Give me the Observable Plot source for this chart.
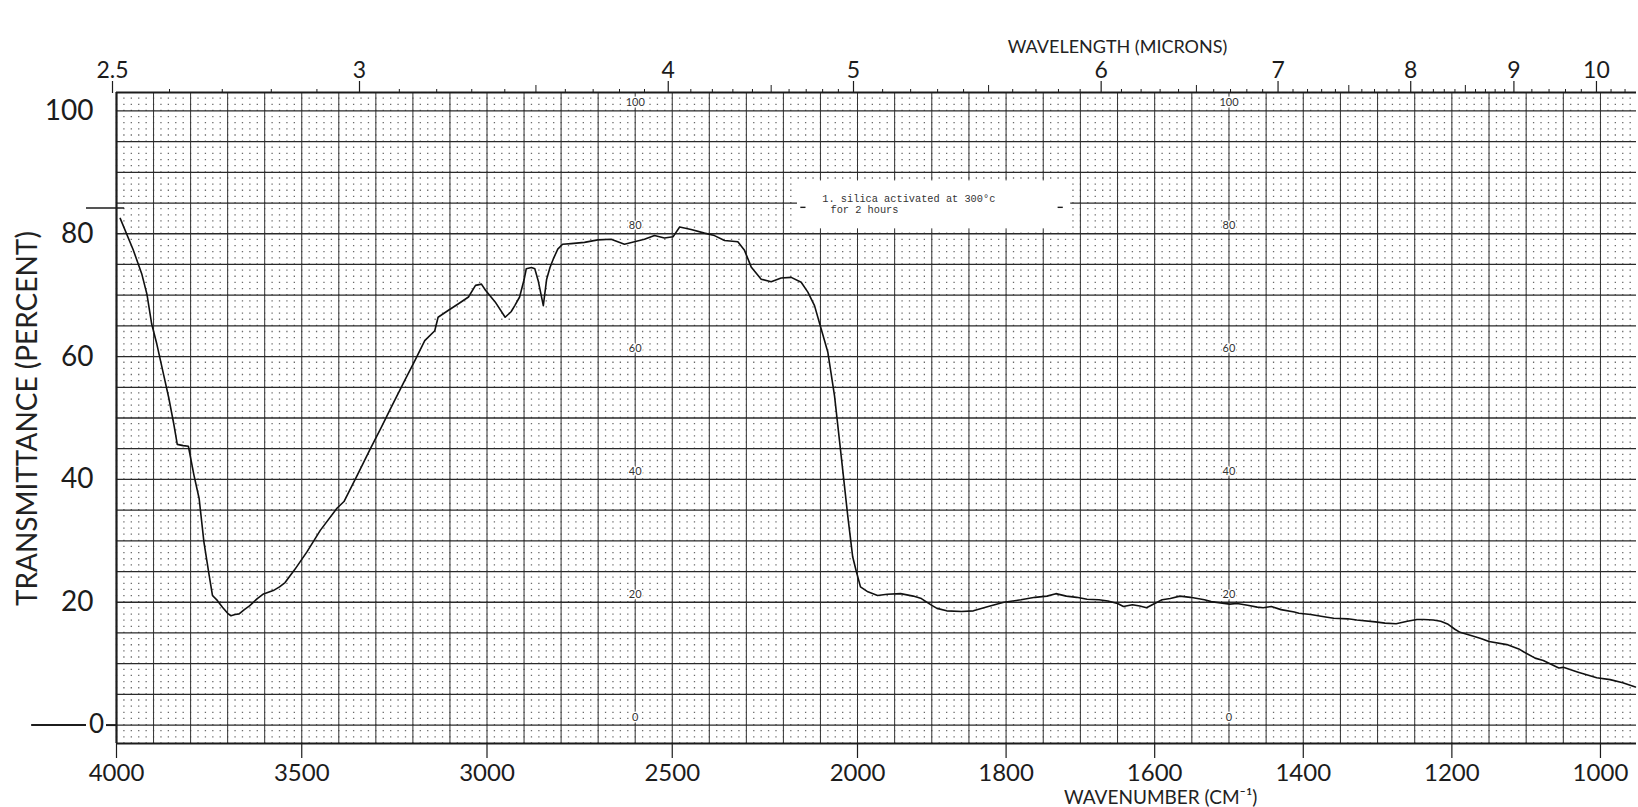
<!DOCTYPE html>
<html><head><meta charset="utf-8">
<script src="https://cdn.jsdelivr.net/npm/d3@7"></script>
<script src="https://cdn.jsdelivr.net/npm/@observablehq/plot@0.6"></script>
<style>html,body{margin:0;padding:0;background:#fff;} #chart svg{display:block;}</style>
</head><body><div id="chart"></div>
<script>
// ---- data ----
const wavenumber = [3990, 3955, 3932, 3918, 3905, 3891, 3873, 3859, 3845, 3836, 3820, 3806, 3791, 3777, 3764, 3750, 3741, 3728, 3714, 3700, 3691, 3680, 3669, 3655, 3641, 3620, 3605, 3577, 3560, 3545, 3518, 3486, 3450, 3405, 3386, 3350, 3314, 3286, 3259, 3223, 3195, 3168, 3141, 3132, 3105, 3077, 3050, 3031, 3015, 3004, 2978, 2951, 2935, 2925, 2912, 2900, 2894, 2880, 2871, 2862, 2848, 2839, 2830, 2821, 2809, 2796, 2773, 2737, 2701, 2665, 2629, 2602, 2575, 2548, 2521, 2498, 2480, 2449, 2413, 2386, 2359, 2323, 2305, 2287, 2260, 2233, 2206, 2179, 2152, 2134, 2116, 2098, 2080, 2062, 2044, 2026, 2013, 2004, 1996, 1986, 1973, 1960, 1942, 1925, 1914, 1900, 1893, 1880, 1860, 1844, 1824, 1803, 1780, 1761, 1745, 1733, 1719, 1705, 1691, 1675, 1663, 1650, 1642, 1630, 1620, 1611, 1600, 1590, 1579, 1566, 1552, 1533, 1524, 1499, 1489, 1475, 1462, 1454, 1443, 1430, 1412, 1406, 1390, 1370, 1359, 1340, 1328, 1303, 1290, 1275, 1260, 1247, 1238, 1225, 1215, 1205, 1196, 1189, 1172, 1161, 1150, 1126, 1110, 1103, 1088, 1077, 1056, 1050, 1030, 1022, 1005, 987, 970, 953];
const transmittance = [82.5, 77.4, 73.5, 70.2, 65.3, 62.0, 57.1, 53.3, 48.9, 45.7, 45.5, 45.4, 40.7, 36.9, 29.8, 24.4, 21.1, 20.3, 19.2, 18.2, 17.8, 18.0, 18.1, 18.8, 19.4, 20.6, 21.3, 21.9, 22.5, 23.2, 25.4, 28.2, 31.7, 35.3, 36.4, 40.7, 45.1, 48.4, 51.7, 56.0, 59.3, 62.6, 64.2, 66.4, 67.5, 68.6, 69.7, 71.6, 71.8, 70.8, 68.9, 66.4, 67.3, 68.3, 69.7, 72.5, 74.3, 74.5, 74.3, 72.4, 68.3, 72.6, 74.5, 75.9, 77.5, 78.3, 78.4, 78.6, 79.0, 79.1, 78.3, 78.7, 79.1, 79.7, 79.3, 79.5, 81.1, 80.7, 80.1, 79.7, 78.9, 78.7, 77.3, 74.6, 72.6, 72.2, 72.8, 72.9, 72.1, 70.5, 68.3, 64.5, 60.7, 53.6, 43.8, 33.9, 27.4, 25.2, 22.5, 21.7, 21.1, 21.3, 21.4, 21.0, 20.6, 19.5, 19.0, 18.6, 18.5, 18.6, 19.3, 20.0, 20.4, 20.8, 21.0, 21.4, 21.0, 20.8, 20.5, 20.4, 20.2, 19.8, 19.3, 19.6, 19.4, 19.1, 19.8, 20.4, 20.6, 21.0, 20.8, 20.4, 20.1, 19.7, 19.8, 19.5, 19.2, 19.1, 19.3, 18.8, 18.4, 18.2, 18.0, 17.6, 17.4, 17.3, 17.1, 16.8, 16.6, 16.5, 16.9, 17.2, 17.2, 17.1, 16.9, 16.4, 15.6, 15.1, 14.5, 14.1, 13.6, 13.1, 12.4, 11.9, 10.9, 10.5, 9.3, 9.4, 8.6, 8.3, 7.7, 7.4, 6.9, 6.2];

const wavenumberTicks = [4000, 3500, 3000, 2500, 2000, 1800, 1600, 1400, 1200, 1000];
const micronLabels = [2.5, 3, 4, 5, 6, 7, 8, 9, 10];
const micronHalf = [3.5, 4.5, 5.5, 6.5, 7.5, 8.5];
const percentTicks = [20, 40, 60, 80, 100];
const paperLabels = [100, 80, 60, 40, 20, 0];
const paperColumns = [2600, 1500];
const noteLines = ["1. silica activated at 300\u00B0c", "for 2 hours"];
const xTitle = "WAVENUMBER (CM\u207B\u00B9)";
const topTitle = "WAVELENGTH (MICRONS)";
const yTitle = "TRANSMITTANCE (PERCENT)";

// ---- chart paper grid positions ----
const xEnd = 951.5;
const hiMajor = d3.range(4000, 1999, -100);
const loMajor = d3.range(1950, xEnd, -50);
const hiMinor = d3.range(3980, 2000, -20).filter(v => v % 100 !== 0);
const loMinor = d3.range(1990, xEnd, -10).filter(v => v % 50 !== 0);
const hLines = d3.range(0, 101, 5);
const micronMinor = d3.range(26, 91).map(v => v / 10)
  .filter(m => !micronLabels.includes(m) && !micronHalf.includes(m))
  .concat([9.2, 9.4, 9.6, 9.8, 10.2, 10.4]);

const spectrum = wavenumber.map((w, i) => ({w, t: transmittance[i]}));

const W = 1638, H = 807;
const mTop = 92, mBottom = 64, mLeft = 116, mRight = 2;
const yDomain = [-3, 103];
const pxPerPct = (H - mTop - mBottom) / (yDomain[1] - yDomain[0]);
const dot = 1.3;
const ink = "#1c1c1c";

const paperPts = paperColumns.flatMap(c => paperLabels.map(v => ({c, v})));

const plot = Plot.plot({
  width: W, height: H,
  marginTop: mTop, marginBottom: mBottom, marginLeft: mLeft, marginRight: mRight,
  style: {fontFamily: "Lato, 'Open Sans', sans-serif", background: "#fff", color: ink, overflow: "visible"},
  x: {type: "linear", domain: [4000, 2000, xEnd], range: [mLeft, 857, W - mRight]},
  y: {domain: yDomain, range: [H - mBottom, mTop]},
  marks: [
    // dotted lattice
    Plot.ruleX(hiMinor.concat(loMinor, hiMajor, loMajor), {y1: 103, y2: -3, stroke: "#6a6a6a", strokeWidth: dot,
      strokeDasharray: `${dot},${pxPerPct - dot}`, strokeDashoffset: dot / 2}),
    // solid grid
    Plot.ruleX(hiMajor.concat(loMajor), {y1: -3, y2: 103, stroke: "#333", strokeWidth: 1}),
    Plot.ruleY(hLines, {x1: 4000, x2: xEnd, stroke: "#2a2a2a", strokeWidth: 1.3}),
    // frame
    Plot.ruleX([4000], {y1: -3, y2: 103, stroke: ink, strokeWidth: 2.2}),
    Plot.ruleY([103, -3], {x1: 4000, x2: xEnd, stroke: ink, strokeWidth: 2.2}),
    // note box
    Plot.rect([0], {x1: 2162, x2: 1713, y1: 80.8, y2: 88.6, fill: "#fff"}),
    Plot.ruleY([84.3], {x1: 2153, x2: 2139, stroke: ink, strokeWidth: 1.4}),
    Plot.ruleY([84.3], {x1: 1730, x2: 1723, stroke: ink, strokeWidth: 1.4}),
    Plot.text(noteLines, {x: (d, i) => i === 0 ? 2095 : 2073, y: (d, i) => i === 0 ? 85.1 : 83.45,
      text: d => d, textAnchor: "start", lineAnchor: "bottom", fontSize: 10.3,
      fontFamily: "'Liberation Mono', 'DejaVu Sans Mono', monospace", fill: "#333"}),
    // paper scale labels
    Plot.text(paperPts, {x: "c", y: d => d.v + 1.3, text: d => String(d.v), fontSize: 11,
      fill: "#333", stroke: "#fff", strokeWidth: 3}),
    // spectrum
    Plot.line(spectrum, {x: "w", y: "t", stroke: "#111", strokeWidth: 1.6}),
    // left side marks
    Plot.ruleY([0], {x1: 4229, x2: 4081, stroke: ink, strokeWidth: 2}),
    Plot.ruleY([0], {x1: 4027, x2: 4000, stroke: ink, strokeWidth: 2}),
    Plot.text(["0"], {x: 4054, y: 0, text: d => d, fontSize: 26}),
    Plot.ruleY([84.2], {x1: 4081, x2: 3978, stroke: ink, strokeWidth: 1.6}),
    // axes
    Plot.axisY(percentTicks, {anchor: "left", tickSize: 0, tickPadding: 23, fontSize: 28, label: null, tickFormat: d => String(d)}),
    Plot.axisX(wavenumberTicks, {anchor: "bottom", tickSize: 15, tickPadding: 5, fontSize: 24, label: null,
      tickFormat: d => String(d), strokeWidth: 1.2}),
    Plot.axisX(micronLabels.map(m => 1e4 / m), {anchor: "top", tickSize: 12, tickPadding: 3, fontSize: 23, label: null,
      tickFormat: (d, i) => String(micronLabels[i]), strokeWidth: 1.2, dx: -4}),
    Plot.axisX(micronHalf.map(m => 1e4 / m), {anchor: "top", tickSize: 8, tickFormat: () => "", label: null, strokeWidth: 1, dx: -4}),
    Plot.axisX(micronMinor.map(m => 1e4 / m), {anchor: "top", tickSize: 4, tickFormat: () => "", label: null, strokeWidth: 1, dx: -4}),
    // titles
    Plot.text([topTitle], {x: 1650, y: 109.5, text: d => d, fontSize: 18, lineAnchor: "bottom", fill: "#222"}),
    Plot.text([xTitle], {x: 1592, y: -12.82, text: d => d, fontSize: 19, lineAnchor: "bottom", fill: "#222"}),
    Plot.text([yTitle], {x: 4238, y: 49.9, text: d => d, fontSize: 28, rotate: -90, fill: "#222"})
  ]
});
document.getElementById("chart").appendChild(plot);
</script>
</body></html>
